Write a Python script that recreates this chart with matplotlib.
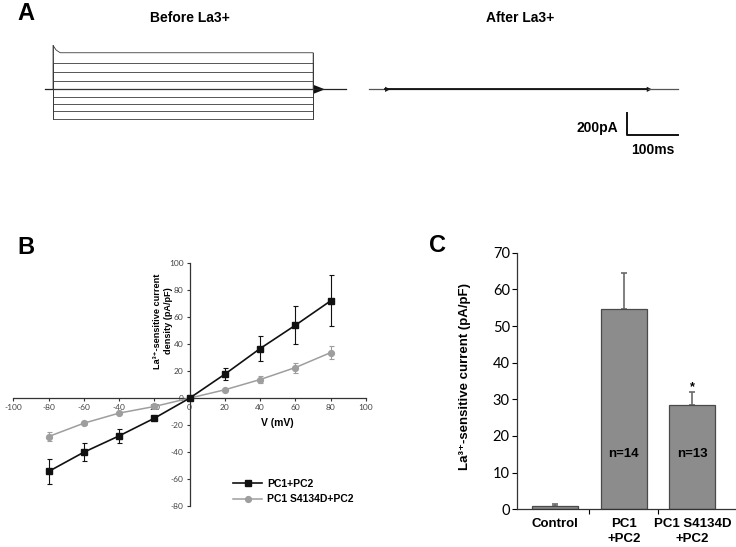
import numpy as np
import matplotlib
matplotlib.use("Agg")
import matplotlib.pyplot as plt
from matplotlib.lines import Line2D

plt.rcParams['font.family'] = ['Liberation Sans', 'DejaVu Sans']
plt.rcParams['axes.unicode_minus'] = False

# --- Panel A: current traces (pA vs ms) ---
step_levels = [333, 236, 155, 75, 0, -67, -134, -195, -267]
onset_peak = 400          # transient at onset of the largest step
step_ms = 510
holding_start, holding_end = -16, 574
tail_amp, tail_ms = 42, 23
after_start, after_end = 619, 1225
after_transients = [651, 1164]
transient_amp, transient_ms = 24, 10
bar_x, bar_y = 1125, -416  # scale bar corner
bar_pA, bar_ms = 200, 100

# --- Panel B: I-V curves ---
voltage = [-80, -60, -40, -20, 0, 20, 40, 60, 80]
iv_wt = [-54.4, -40.1, -28.0, -14.9, 0, 17.8, 36.8, 54.1, 72.2]
iv_wt_err = [9.5, 6.7, 5.0, 1.5, 0, 4.4, 9.0, 14.3, 18.8]
iv_mut = [-28.5, -18.6, -11.1, -6.2, 0, 6.2, 13.8, 22.7, 33.8]
iv_mut_err = [3.5, 1.5, 1.0, 1.0, 0, 0.8, 2.6, 3.7, 5.0]

# --- Panel C: bar chart ---
groups = ['Control', 'PC1\n+PC2', 'PC1 S4134D\n+PC2']
current = [1.0, 54.7, 28.4]
current_err = [0.45, 9.7, 3.5]
n_labels = ['', 'n=14', 'n=13']

W, H = 736, 547
fig = plt.figure(figsize=(W / 100, H / 100), dpi=100)


def fx(px):
    return px / W


def fy(py):
    return 1 - py / H


# ----- A -----
axA = fig.add_axes([0, fy(170), 1, 170 / H])
axA.set_xlim(-104, 1339)
axA.set_ylim(-734, 813)
axA.axis('off')
tr_color = '#3a3a3a'
axA.plot([holding_start, holding_end], [0, 0], color='#222222', lw=0.9)
for lev in step_levels:
    if lev == max(step_levels):
        xs = [0, 0, 6, 14, step_ms, step_ms]
        ys = [0, onset_peak, lev + 25, lev, lev, 0]
    else:
        xs = [0, 0, step_ms, step_ms]
        ys = [0, lev, lev, 0]
    axA.plot(xs, ys, color=tr_color, lw=0.6)
axA.plot([0, 0], [min(step_levels), onset_peak], color=tr_color, lw=0.6)
axA.plot([step_ms, step_ms], [min(step_levels), max(step_levels)], color=tr_color, lw=0.6)
axA.fill([step_ms, step_ms + tail_ms, step_ms], [tail_amp, 0, -tail_amp], color='#111111', lw=0)

axA.plot([after_start, after_end], [0, 0], color='#555555', lw=0.9)
axA.plot([after_transients[0], after_transients[1]], [0, 0], color='#111111', lw=1.3)
for t in after_transients:
    axA.fill([t, t + transient_ms, t], [transient_amp, 0, -transient_amp], color='#111111', lw=0)

axA.plot([bar_x, bar_x, bar_x + bar_ms], [bar_y + bar_pA, bar_y, bar_y], color='#111111', lw=1.4)
axA.text(bar_x - 18, bar_y + bar_pA * 0.33, '200pA', ha='right', va='center', fontsize=10, fontweight='bold')
axA.text(bar_x + bar_ms / 2, bar_y - 135, '100ms', ha='center', va='center', fontsize=10, fontweight='bold')

fig.text(fx(26), fy(14), 'A', fontsize=17, fontweight='bold', ha='center', va='center')
fig.text(fx(190), fy(18.5), 'Before La3+', fontsize=10, fontweight='bold', ha='center', va='center')
fig.text(fx(520), fy(18), 'After La3+', fontsize=10, fontweight='bold', ha='center', va='center')

# ----- B -----
axB = fig.add_axes([fx(13.3), fy(506), fx(366 - 13.3), (506 - 263.3) / H])
axB.set_xlim(-100, 100)
axB.set_ylim(-80, 100)
axB.set_facecolor('none')
for s in ['top', 'right']:
    axB.spines[s].set_visible(False)
axB.spines['left'].set_position(('data', 0))
axB.spines['bottom'].set_position(('data', 0))
for s in ['left', 'bottom']:
    axB.spines[s].set_color('#333333')
    axB.spines[s].set_linewidth(0.9)
axB.set_xticks(np.arange(-100, 101, 20))
axB.set_yticks(np.arange(-80, 101, 20))
axB.tick_params(axis='both', direction='out', length=2.5, width=0.8, color='#333333',
                labelsize=6, labelcolor='#444444', pad=2)
for lab in axB.get_xticklabels() + axB.get_yticklabels():
    lab.set_family(['Lato', 'DejaVu Sans'])

axB.errorbar(voltage, iv_mut, yerr=iv_mut_err, color='#9e9e9e', marker='o', ms=4.2,
             lw=1.1, capsize=1.8, elinewidth=0.8, capthick=0.8, zorder=3)
axB.errorbar(voltage, iv_wt, yerr=iv_wt_err, color='#111111', marker='s', ms=4.6,
             lw=1.2, capsize=1.8, elinewidth=0.8, capthick=0.8, zorder=4)

fig.text(fx(163), fy(321), 'La³⁺-sensitive current\ndensity (pA/pF)', rotation=90,
         fontsize=6.6, fontweight='bold', ha='center', va='center', multialignment='center')
fig.text(fx(277), fy(422.5), 'V (mV)', fontsize=7.5, fontweight='bold', ha='center', va='center')

handles = [Line2D([], [], color='#111111', marker='s', ms=4.6, lw=1.2),
           Line2D([], [], color='#9e9e9e', marker='o', ms=4.2, lw=1.1)]
fig.legend(handles, ['PC1+PC2', 'PC1 S4134D+PC2'], loc='center left',
           bbox_to_anchor=(fx(233), fy(491.5)), bbox_transform=fig.transFigure,
           frameon=False, borderpad=0, borderaxespad=0, handlelength=2.8,
           handletextpad=0.5, labelspacing=0.55, prop={'weight': 'bold', 'size': 7.5})

fig.text(fx(26), fy(247), 'B', fontsize=17, fontweight='bold', ha='center', va='center')

# ----- C -----
axC = fig.add_axes([fx(516.7), fy(509.3), fx(735 - 516.7), (509.3 - 252.7) / H])
pos = np.arange(len(groups))
axC.bar(pos, current, width=0.67, color='#8c8c8c', edgecolor='#4a4a4a', lw=0.9, zorder=2)
axC.errorbar(pos, current, yerr=[[0] * len(current), current_err], fmt='none',
             ecolor='#6a6a6a', elinewidth=1.2, capsize=2, capthick=1.2, zorder=1)
axC.set_xlim(-0.56, 2.62)
axC.set_ylim(0, 70)
for s in ['top', 'right']:
    axC.spines[s].set_visible(False)
for s in ['left', 'bottom']:
    axC.spines[s].set_color('#333333')
    axC.spines[s].set_linewidth(0.9)
axC.set_yticks(np.arange(0, 71, 10))
axC.tick_params(axis='y', direction='out', length=3.5, width=0.8, labelsize=10.5, pad=1.5)
for lab in axC.get_yticklabels():
    lab.set_family(['Lato', 'DejaVu Sans'])
axC.set_xticks(pos)
axC.set_xticklabels(groups, fontsize=9.5, fontweight='bold', linespacing=1.4)
axC.tick_params(axis='x', length=0, pad=6)
axC.set_xticks([0.5, 1.5], minor=True)
axC.tick_params(axis='x', which='minor', direction='out', length=3.5, width=0.8)

for p, lab in zip(pos, n_labels):
    axC.text(p, 15.2, lab, ha='center', va='center', fontsize=9.5, fontweight='bold')
axC.text(2, 33.3, '*', ha='center', va='center', fontsize=9, fontweight='bold')

fig.text(fx(465), fy(377), 'La³⁺-sensitive current (pA/pF)', rotation=90,
         fontsize=9.5, fontweight='bold', ha='center', va='center')
fig.text(fx(437), fy(246), 'C', fontsize=17, fontweight='bold', ha='center', va='center')

fig.savefig('out.png', dpi=100)
